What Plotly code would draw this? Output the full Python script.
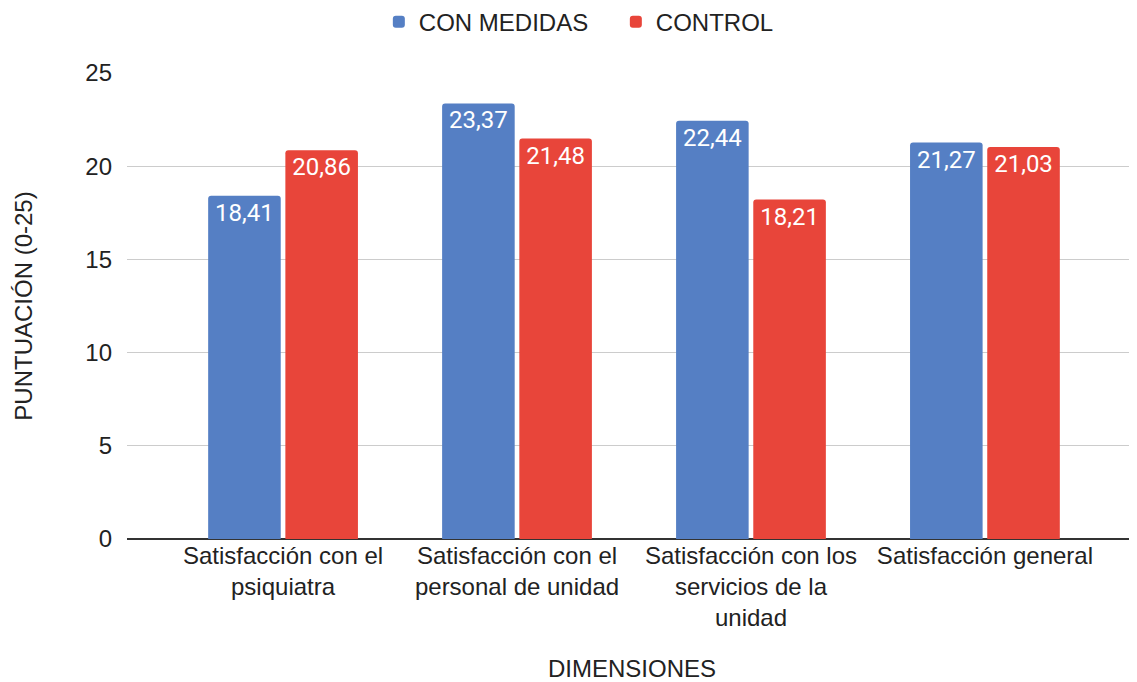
import plotly.graph_objects as go

categories = [
    "Satisfacción con el<br>psiquiatra",
    "Satisfacción con el<br>personal de unidad",
    "Satisfacción con los<br>servicios de la<br>unidad",
    "Satisfacción general",
]
con_medidas = [18.41, 23.37, 22.44, 21.27]
control = [20.86, 21.48, 18.21, 21.03]
series_names = ["CON MEDIDAS", "CONTROL"]
colors = ["#557FC4", "#E8453A"]

def fmt(v):
    return f"{v:.2f}".replace(".", ",")

fig = go.Figure()
for name, vals, col in zip(series_names, [con_medidas, control], colors):
    fig.add_trace(go.Bar(
        x=categories, y=vals, name=name,
        marker=dict(color=col, cornerradius=3, line=dict(width=0)),
        text=[fmt(v) for v in vals],
        textposition="inside", insidetextanchor="end",
        textangle=0, constraintext="none",
        textfont=dict(family="Roboto", size=24, color="white"),
    ))

fig.update_layout(
    width=1129, height=674,
    paper_bgcolor="white", plot_bgcolor="white",
    margin=dict(l=119, r=0, t=65, b=143, autoexpand=False),
    barmode="group", bargap=0.34, bargroupgap=0.06,
    font=dict(family="Liberation Sans, Arial", size=24, color="#222222"),
    legend=dict(orientation="h", x=0.484, xanchor="center", y=0.979, yref="container",
                yanchor="middle", font=dict(size=24, color="#222222"),
                itemwidth=30, entrywidth=192, entrywidthmode="pixels",
                traceorder="normal"),
    xaxis=dict(
        range=[-0.667, 3.65], showgrid=False, showline=False,
        tickfont=dict(size=24, color="#222222"), ticks="",
        title=dict(text="DIMENSIONES", font=dict(size=24, color="#222222"), standoff=29),
    ),
    yaxis=dict(
        range=[0, 25], dtick=5, showgrid=True, gridcolor="#CCCCCC", gridwidth=1,
        zeroline=True, zerolinecolor="#333333", zerolinewidth=2,
        tickfont=dict(size=24, color="#222222"), ticks="", ticklabelstandoff=14,
        title=dict(text="PUNTUACIÓN (0-25)", font=dict(size=24, color="#222222"), standoff=45),
    ),
)

fig.write_html("out.html")
